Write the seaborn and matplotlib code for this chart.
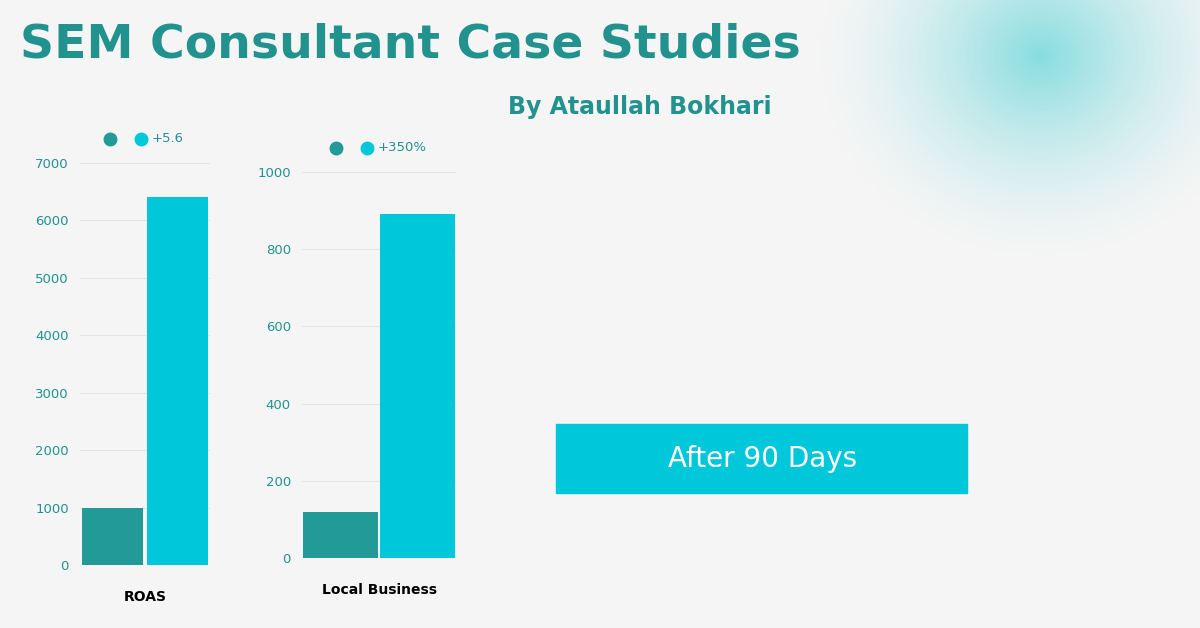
import numpy as np
import pandas as pd
import seaborn as sns
import matplotlib.pyplot as plt
from matplotlib.patches import Rectangle

sns.set_style("white")
plt.rcParams['font.family'] = ['DejaVu Sans']

# data
roas_labels = ["Before", "After"]
roas_values = [1000, 6400]
local_labels = ["Before", "After"]
local_values = [120, 890]
dark = "#219a98"
cyan = "#00c8da"
teal_txt = "#22928f"
bg = "#f5f5f5"

W, H = 1200, 628
fig = plt.figure(figsize=(12, 6.28), dpi=100, facecolor=bg)

# soft glow top-right
glow = fig.add_axes([0, 0, 1, 1], zorder=0)
glow.axis("off")
yy, xx = np.mgrid[0:H, 0:W]
d = np.sqrt(((xx - 1040) / 1.1) ** 2 + (yy - 55) ** 2)
a = np.clip(1 - d / 210, 0, 1) ** 1.6 * 0.45
img = np.zeros((H, W, 4))
img[..., 0], img[..., 1], img[..., 2] = 0.0, 0.75, 0.78
img[..., 3] = a
glow.imshow(img, extent=[0, W, H, 0], aspect="auto")
glow.set_xlim(0, W); glow.set_ylim(H, 0)


def fx(px):
    return px / W


def fy(py):
    return 1 - py / H


def bar_chart(rect, labels, values, ymax, step, xlabel, width):
    ax = fig.add_axes(rect, zorder=2)
    ax.set_facecolor("none")
    df = pd.DataFrame({"k": labels, "v": values})
    sns.barplot(data=df, x="k", y="v", hue="k", palette=[dark, cyan], saturation=1,
                width=width, legend=False, ax=ax, linewidth=0)
    for p in ax.patches:
        p.set_zorder(3)
    ax.set_xlim(-0.5, 1.5)
    ax.set_ylim(0, ymax)
    ax.set_yticks(np.arange(0, ymax + 1, step))
    ax.grid(axis="y", color="#e4e4e4", linewidth=0.8, zorder=0)
    ax.set_xticks([])
    ax.set_ylabel("")
    ax.set_xlabel(xlabel, fontsize=10, fontweight="bold", color="black", labelpad=18)
    ax.tick_params(axis="y", colors=teal_txt, labelsize=9.5, length=0, pad=8)
    for s in ax.spines.values():
        s.set_visible(False)
    return ax


ax1 = bar_chart([fx(80), fy(565), fx(130), (565 - 163) / H], roas_labels, roas_values,
                7000, 1000, "ROAS", 0.94)
ax2 = bar_chart([fx(302), fy(558), fx(154), (558 - 172) / H], local_labels, local_values,
                1000, 200, "Local Business", 0.97)

# legends
for (x1, x2, y, txt) in [(110, 141, 139, "+5.6"), (336, 367, 148, "+350%")]:
    fig.lines.append(plt.Line2D([fx(x1)], [fy(y)], marker="o", markersize=9, color=dark,
                                transform=fig.transFigure))
    fig.lines.append(plt.Line2D([fx(x2)], [fy(y)], marker="o", markersize=9, color=cyan,
                                transform=fig.transFigure))
    fig.text(fx(x2 + 11), fy(y), txt, color=teal_txt, fontsize=9.5, va="center")

# titles
fig.text(fx(20), fy(45), "SEM Consultant Case Studies", fontsize=34, fontweight="bold",
         color=teal_txt, va="center", zorder=3)
fig.text(fx(508), fy(107), "By Ataullah Bokhari", fontsize=17, fontweight="bold",
         color=teal_txt, va="center", zorder=3)

# box
fig.patches.append(Rectangle((fx(556), fy(493)), fx(411), 69 / H, color=cyan,
                             transform=fig.transFigure, zorder=3))
fig.text(fx(763), fy(459), "After 90 Days", fontsize=20, color="white",
         ha="center", va="center", zorder=4)

fig.savefig("out.png", dpi=100, facecolor=bg)
